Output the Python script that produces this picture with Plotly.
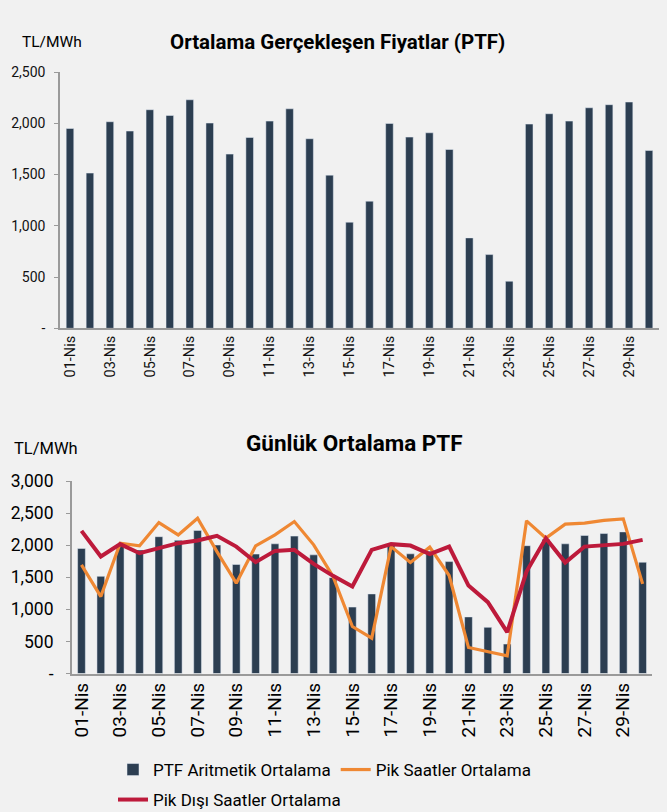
import plotly.graph_objects as go

days = [f"{d:02d}-Nis" for d in range(1, 31)]
ptf = [1949, 1514, 2015, 1924, 2132, 2076, 2229, 2002, 1699, 1861,
       2021, 2141, 1849, 1494, 1035, 1240, 1998, 1865, 1907, 1744,
       882, 719, 459, 1992, 2093, 2021, 2151, 2181, 2207, 1734]
pik = [1693, 1199, 2031, 1989, 2352, 2160, 2420, 1900, 1408, 1989,
       2160, 2368, 2005, 1511, 732, 551, 1978, 1729, 1969, 1527,
       405, 343, 276, 2379, 2109, 2327, 2343, 2385, 2410, 1397]
pik_disi = [2223, 1823, 2016, 1875, 1953, 2031, 2072, 2145, 1978, 1735,
            1911, 1927, 1709, 1522, 1355, 1927, 2016, 1994, 1860, 1978,
            1371, 1112, 645, 1589, 2109, 1729, 1978, 2005, 2020, 2083]
top_yticks = [0, 500, 1000, 1500, 2000, 2500]
bot_yticks = [0, 500, 1000, 1500, 2000, 2500, 3000]

W, H = 667, 812
FONT = "Roboto, sans-serif"
BAR = "#2c3e51"
ORANGE = "#ef8833"
RED = "#bd1a3b"
AX = "#9a9a9a"
BG = "#f1f1f1"

xs = list(range(1, len(days) + 1))
label_idx = [i for i in xs if i % 2 == 1]
label_txt = [days[i - 1] for i in label_idx]
bound_vals = [i - 0.5 for i in label_idx] + [len(days) + 0.5]


def fmt(v):
    return f"{v:,}" if v else "-"


def px_x(a, b):
    return [a / W, b / W]


def px_y(top, bottom):
    return [1 - bottom / H, 1 - top / H]


fig = go.Figure()

fig.add_trace(go.Bar(x=xs, y=ptf, marker_color=BAR, width=0.38,
                     xaxis="x", yaxis="y", showlegend=False,
                     name="PTF Aritmetik Ortalama"))

fig.add_trace(go.Bar(x=xs, y=ptf, marker_color=BAR, width=0.4,
                     xaxis="x3", yaxis="y3", name="PTF Aritmetik Ortalama",
                     legend="legend"))
fig.add_trace(go.Scatter(x=xs, y=pik, mode="lines", line=dict(color=ORANGE, width=3.2),
                         xaxis="x3", yaxis="y3", name="Pik Saatler Ortalama",
                         legend="legend"))
fig.add_trace(go.Scatter(x=xs, y=pik_disi, mode="lines", line=dict(color=RED, width=4),
                         xaxis="x3", yaxis="y3", name="Pik Dışı Saatler Ortalama",
                         legend="legend2"))

rng = [0.5, len(days) + 0.5]
top_dom_x = px_x(60, 659)
top_dom_y = px_y(72, 328.3)
bot_dom_x = px_x(71.8, 652.3)
bot_dom_y = px_y(481, 673.5)

common_x = dict(range=rng, showgrid=False, zeroline=False, fixedrange=True, automargin=False)
leg_common = dict(orientation="h", xanchor="left", yanchor="middle",
                  font=dict(size=17, color="#000"), bgcolor="rgba(0,0,0,0)",
                  traceorder="normal", itemwidth=30)

fig.update_layout(
    width=W, height=H,
    margin=dict(l=0, r=0, t=0, b=0, pad=0, autoexpand=False),
    paper_bgcolor=BG, plot_bgcolor=BG,
    font=dict(family=FONT, color="#000000"),
    xaxis=dict(**common_x, domain=top_dom_x, anchor="y", tickmode="array",
               tickvals=label_idx, ticktext=label_txt, tickangle=-90, ticks="",
               showline=True, linecolor=AX, linewidth=1.5,
               tickfont=dict(size=14.5, color="#111")),
    xaxis2=dict(**common_x, domain=top_dom_x, anchor="y", overlaying="x",
                tickmode="array", tickvals=bound_vals, showticklabels=False,
                ticks="outside", ticklen=6, tickcolor=AX, tickwidth=1.5, showline=False),
    yaxis=dict(domain=top_dom_y, anchor="x", range=[0, 2500], showgrid=False, zeroline=False,
               automargin=False,
               tickmode="array", tickvals=top_yticks, ticktext=[fmt(v) for v in top_yticks],
               showline=True, linecolor=AX, linewidth=1.5, ticks="outside", ticklen=4,
               tickcolor=AX, tickfont=dict(size=14, color="#111"), ticklabelstandoff=6),
    xaxis3=dict(**common_x, domain=bot_dom_x, anchor="y3", tickmode="array",
                tickvals=label_idx, ticktext=label_txt, tickangle=-90, ticks="",
                showline=True, linecolor=AX, linewidth=1.5,
                tickfont=dict(size=19, color="#000")),
    xaxis4=dict(**common_x, domain=bot_dom_x, anchor="y3", overlaying="x3",
                tickmode="array", tickvals=bound_vals, showticklabels=False,
                ticks="outside", ticklen=6, tickcolor=AX, tickwidth=1.5, showline=False),
    yaxis3=dict(domain=bot_dom_y, anchor="x3", range=[0, 3000], showgrid=False, zeroline=False,
                automargin=False,
                tickmode="array", tickvals=bot_yticks, ticktext=[fmt(v) for v in bot_yticks],
                showline=True, linecolor=AX, linewidth=1.5, ticks="outside", ticklen=4,
                tickcolor=AX, tickfont=dict(size=17.5, color="#000"), ticklabelstandoff=9),
    legend=dict(**leg_common, x=113 / W, y=1 - 770 / H),
    legend2=dict(**leg_common, x=113 / W, y=1 - 800 / H),
    annotations=[
        dict(text="TL/MWh", x=20 / W, y=1 - 42 / H, xref="paper", yref="paper",
             xanchor="left", yanchor="middle", showarrow=False, font=dict(size=15.5)),
        dict(text="<b>Ortalama Gerçekleşen Fiyatlar (PTF)</b>", x=337 / W, y=1 - 42 / H,
             xref="paper", yref="paper", xanchor="center", yanchor="middle",
             showarrow=False, font=dict(size=20.5)),
        dict(text="TL/MWh", x=12 / W, y=1 - 448 / H, xref="paper", yref="paper",
             xanchor="left", yanchor="middle", showarrow=False, font=dict(size=16.5)),
        dict(text="<b>Günlük Ortalama PTF</b>", x=354 / W, y=1 - 443 / H,
             xref="paper", yref="paper", xanchor="center", yanchor="middle",
             showarrow=False, font=dict(size=22.5)),
    ],
)

fig.write_html("out.html", config={"displayModeBar": False},
               post_script="document.body.style.margin='0';")
